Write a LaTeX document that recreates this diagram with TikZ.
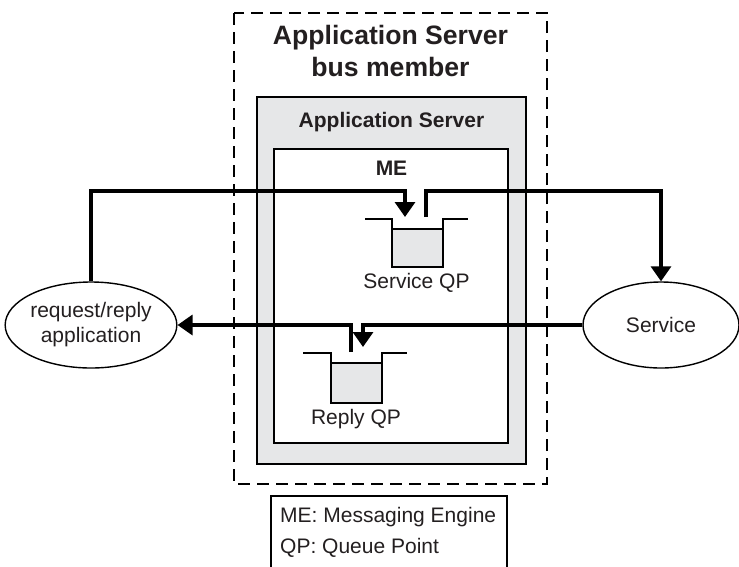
\documentclass[tikz,border=0pt]{standalone}
\usepackage{fontspec}
\setmainfont{Liberation Sans}
\usetikzlibrary{arrows.meta,shapes.geometric}
\definecolor{qgray}{HTML}{E6E7E8}
\definecolor{txt}{HTML}{231F20}
\tikzset{
  conn/.style={line width=3.3pt, draw=black},
  arr/.style={conn, -{Triangle[width=20pt,length=15pt]}},
  oval/.style={ellipse, draw, line width=1.4pt, inner sep=0pt, align=center, font=\fontsize{21}{25}\selectfont, text=txt},
  qline/.style={line width=2pt},
  lbl/.style={font=\fontsize{21}{25}\selectfont, text=txt, inner sep=0pt},
  blbl/.style={font=\bfseries\fontsize{21}{25}\selectfont, text=txt, inner sep=0pt},
}
\begin{document}
\begin{tikzpicture}[x=1pt,y=-1pt]
\useasboundingbox (0,0) rectangle (739,566);
% outer dashed bus member
\draw[line width=2.4pt, dash pattern=on 12pt off 7pt] (234,13) rectangle (547,484);
\node[font=\bfseries\fontsize{26.6}{32}\selectfont, text=txt, align=center, inner sep=0pt] (title) at (390.5,51) {Application Server\\bus member};
% application server
\draw[line width=1.5pt, fill=qgray] (257,97) rectangle (526,464);
\node[blbl] (astitle) at (391.5,122) {Application Server};
% ME
\draw[line width=1.5pt, fill=white] (274,149) rectangle (508,443);
\node[blbl] (me) at (391.5,168) {ME};
% service queue
\draw[qline, fill=qgray] (392,229) rectangle (443,267);
\draw[qline] (365,219) -- (392,219) -- (392,267) -- (443,267) -- (443,219) -- (468,219);
\node[lbl] (sqlabel) at (416.5,283) {Service QP};
% reply queue
\draw[qline, fill=qgray] (331,363) rectangle (382,403);
\draw[qline] (303,353) -- (331,353) -- (331,403) -- (382,403) -- (382,353) -- (407,353);
\node[lbl] (rqlabel) at (356,419) {Reply QP};
% ellipses
\node[oval, minimum width=166pt, minimum height=86pt] (req) at (91,325) {request/reply\\application};
\node[oval, minimum width=156pt, minimum height=86pt] (svc) at (661,325) {Service};
% queue anchor coordinates
\coordinate (sqin) at (405,217);
\coordinate (sqout) at (426,217);
\coordinate (rqin) at (363,347);
\coordinate (rqout) at (351,352);
% connectors
\draw[arr] (req.north) |- (405,191) -- (sqin);
\draw[arr] (sqout) |- (661,191) -- (svc.north);
\draw[arr] (svc.west) -- (363,325) -- (rqin);
\draw[arr] (rqout) |- (req.east);
% legend
\draw[line width=1.5pt] (271,567) -- (271,496) -- (507,496) -- (507,567);
\node[lbl, anchor=west] (leg1) at (280,517) {ME: Messaging Engine};
\node[lbl, anchor=west] (leg2) at (280,548) {QP: Queue Point};
\end{tikzpicture}
\end{document}
